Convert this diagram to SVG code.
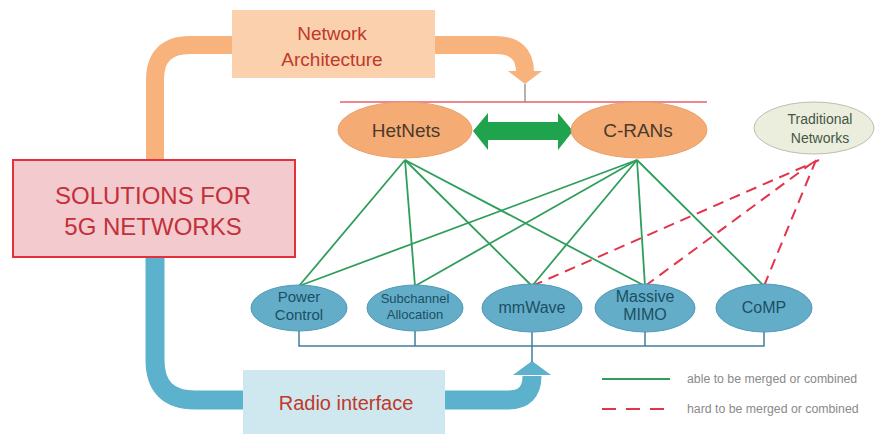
<svg xmlns="http://www.w3.org/2000/svg" width="877" height="436" viewBox="0 0 877 436">
<style>
.pipeO{fill:none;stroke:#f8b27c;stroke-width:18}
.pipeB{fill:none;stroke:#5cb1cd;stroke-width:19}
.green{stroke:#2f9e5c;stroke-width:1.8;fill:none}
.red{stroke:#e2344c;stroke-width:2;stroke-dasharray:11 7;fill:none}
.bus{stroke:#3f7f99;stroke-width:1.5;fill:none}
.blue{fill:#63adc9;stroke:#5299b6;stroke-width:1}
.btxt{font-family:"Liberation Sans",Arial,sans-serif;fill:#1c4f63;text-anchor:middle}
.otxt{font-family:"Liberation Sans",Arial,sans-serif;fill:#4a3a2c;text-anchor:middle;font-size:19px}
.leg{font-family:"Liberation Sans",Arial,sans-serif;fill:#8a8a8a;font-size:12.3px}
</style>
<rect width="877" height="436" fill="#ffffff"/>
<g id="connectors">
  <path class="pipeO" d="M155,160 V80 Q155,45 190,45 H240"/>
  <path class="pipeO" d="M430,45 H495 Q525,45 525,72"/>
  <polygon points="508,71 542,71 525,84" fill="#f8b27c"/>
  <line x1="525" y1="84" x2="525" y2="102" stroke="#9a9a9a" stroke-width="1.5"/>
  <line x1="340" y1="102" x2="707" y2="102" stroke="#e8606a" stroke-width="1.3"/>
  <path class="pipeB" d="M155,255 V360 Q155,400 195,400 H250"/>
  <path class="pipeB" d="M440,400 H508 Q532,400 532,376"/>
  <polygon points="513,375 551,375 532,361" fill="#5cb1cd"/>
  <line class="bus" x1="532" y1="332" x2="532" y2="362"/>
  <path class="bus" d="M299,331 V346 H764 V331 M415,331 V346 M645,331 V346"/>
  <polygon points="473,131 488,113 488,122 558,122 558,113 573,131 558,150 558,140 488,140 488,150" fill="#1fa34c"/>
  <g class="green">
    <line x1="405" y1="160" x2="299" y2="286"/>
    <line x1="405" y1="160" x2="415" y2="286"/>
    <line x1="405" y1="160" x2="532" y2="286"/>
    <line x1="405" y1="160" x2="645" y2="286"/>
    <line x1="637" y1="160" x2="299" y2="286"/>
    <line x1="637" y1="160" x2="415" y2="286"/>
    <line x1="637" y1="160" x2="532" y2="286"/>
    <line x1="637" y1="160" x2="645" y2="286"/>
    <line x1="637" y1="160" x2="764" y2="286"/>
  </g>
  <g class="red">
    <line x1="532" y1="286" x2="819" y2="160"/>
    <line x1="645" y1="286" x2="812" y2="163"/>
    <line x1="764" y1="286" x2="816" y2="160"/>
  </g>
</g>
<g id="netarch">
  <rect x="232" y="10" width="203" height="68" fill="#fad0ad"/>
  <text x="332" y="40" font-family="Liberation Sans,Arial,sans-serif" font-size="19" fill="#c0392b" text-anchor="middle">Network</text>
  <text x="332" y="66" font-family="Liberation Sans,Arial,sans-serif" font-size="19" fill="#c0392b" text-anchor="middle">Architecture</text>
</g>
<g id="solutions">
  <rect x="13" y="160" width="282" height="97" fill="#f3cacd" stroke="#e2303c" stroke-width="2"/>
  <text x="153" y="204" font-family="Liberation Sans,Arial,sans-serif" font-size="24" fill="#c2303a" text-anchor="middle">SOLUTIONS FOR</text>
  <text x="153" y="235" font-family="Liberation Sans,Arial,sans-serif" font-size="24" fill="#c2303a" text-anchor="middle">5G NETWORKS</text>
</g>
<g id="radio">
  <rect x="243" y="370" width="202" height="64" fill="#cfe7ef"/>
  <text x="346" y="410" font-family="Liberation Sans,Arial,sans-serif" font-size="20" fill="#c0392b" text-anchor="middle">Radio interface</text>
</g>
<g id="hetnets">
  <ellipse cx="405" cy="130" rx="67" ry="28" fill="#f4ac74" stroke="#e9a06a" stroke-width="1"/>
  <text class="otxt" x="406" y="137">HetNets</text>
</g>
<g id="crans">
  <ellipse cx="639" cy="130" rx="68" ry="28" fill="#f4ac74" stroke="#e9a06a" stroke-width="1"/>
  <text class="otxt" x="638" y="137">C-RANs</text>
</g>
<g id="traditional">
  <ellipse cx="814" cy="128" rx="60" ry="26" fill="#eceedd" stroke="#bcbfae" stroke-width="1"/>
  <text x="820" y="124" font-family="Liberation Sans,Arial,sans-serif" font-size="14" fill="#455646" text-anchor="middle">Traditional</text>
  <text x="820" y="143" font-family="Liberation Sans,Arial,sans-serif" font-size="14" fill="#455646" text-anchor="middle">Networks</text>
</g>
<g id="power">
  <ellipse class="blue" cx="299" cy="308" rx="48" ry="23"/>
  <text class="btxt" x="299" y="302" font-size="15">Power</text>
  <text class="btxt" x="299" y="320" font-size="15">Control</text>
</g>
<g id="subchannel">
  <ellipse class="blue" cx="415" cy="308" rx="48" ry="23"/>
  <text class="btxt" x="415" y="303" font-size="13">Subchannel</text>
  <text class="btxt" x="415" y="319" font-size="13">Allocation</text>
</g>
<g id="mmwave">
  <ellipse class="blue" cx="532" cy="308" rx="50" ry="24"/>
  <text class="btxt" x="532" y="313" font-size="16">mmWave</text>
</g>
<g id="mimo">
  <ellipse class="blue" cx="645" cy="308" rx="50" ry="24"/>
  <text class="btxt" x="645" y="302" font-size="16">Massive</text>
  <text class="btxt" x="645" y="320" font-size="16">MIMO</text>
</g>
<g id="comp">
  <ellipse class="blue" cx="764" cy="308" rx="48" ry="24"/>
  <text class="btxt" x="764" y="313" font-size="16">CoMP</text>
</g>
<g id="legend">
  <line x1="602" y1="379" x2="670" y2="379" stroke="#2f9e5c" stroke-width="2"/>
  <text class="leg" x="687" y="383">able to be merged or combined</text>
  <line x1="602" y1="409" x2="670" y2="409" stroke="#e2344c" stroke-width="2" stroke-dasharray="14 10"/>
  <text class="leg" x="687" y="413">hard to be merged or combined</text>
</g>
</svg>
